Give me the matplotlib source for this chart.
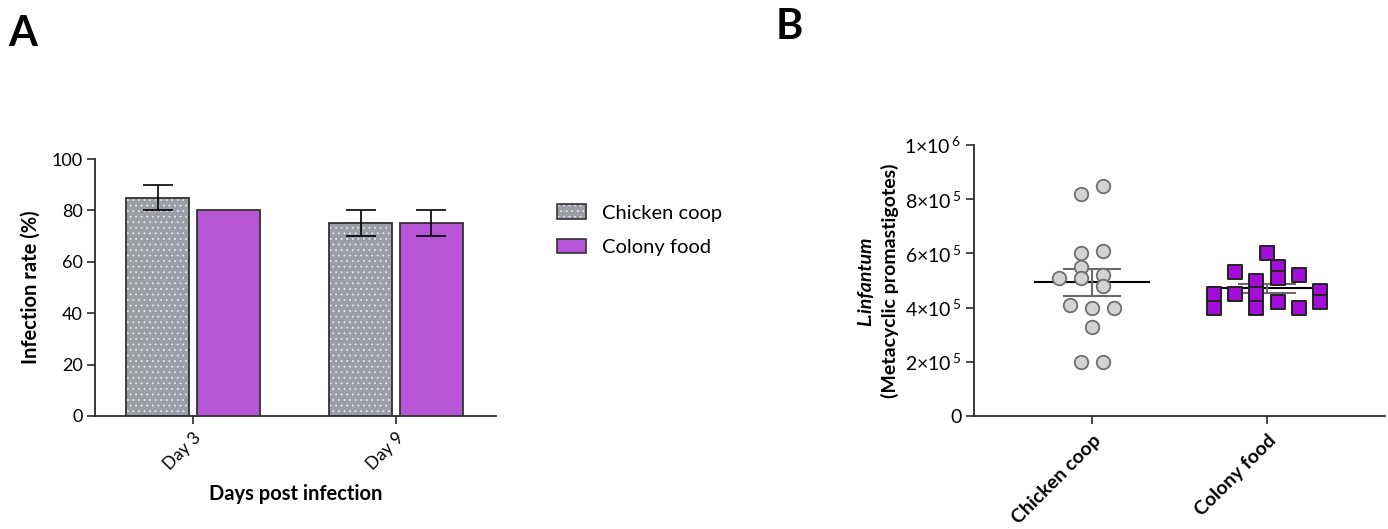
import numpy as np
import matplotlib
matplotlib.use("Agg")
import matplotlib.pyplot as plt
from matplotlib.patches import Patch

plt.rcParams['font.family'] = ['Lato', 'DejaVu Sans']
plt.rcParams['mathtext.default'] = 'regular'
plt.rcParams['hatch.linewidth'] = 0.6

# ---------------- data ----------------
days = ["Day 3", "Day 9"]
groups = ["Chicken coop", "Colony food"]
infection_chicken = [85, 75]
infection_chicken_err = [5, 5]
infection_colony = [80, 75]
infection_colony_err = [0, 5]

chicken_values = [8.2e5, 8.5e5, 6.0e5, 6.1e5, 5.5e5, 5.1e5, 5.1e5, 5.2e5,
                  4.8e5, 4.1e5, 4.0e5, 4.0e5, 3.3e5, 2.0e5, 2.0e5]
colony_values = [6.0e5, 5.3e5, 5.5e5, 5.1e5, 5.2e5, 5.0e5, 4.5e5, 4.5e5,
                 4.5e5, 4.6e5, 4.2e5, 4.0e5, 4.0e5, 4.2e5, 4.0e5]
# swarm column indices (layout)
chicken_cols = [-1, 1, -1, 1, -1, -3, -1, 1, 1, -2, 0, 2, 0, -1, 1]
colony_cols = [0, -3, 1, 1, 3, -1, -5, -3, -1, 5, 5, -5, -1, 1, 3]

yticks_B = [0, 2e5, 4e5, 6e5, 8e5, 1e6]
ytick_labels_B = ["0", r"$\mathregular{2×10^{\,5}}$", r"$\mathregular{4×10^{\,5}}$",
                  r"$\mathregular{6×10^{\,5}}$", r"$\mathregular{8×10^{\,5}}$",
                  r"$\mathregular{1×10^{\,6}}$"]

# ---------------- figure ----------------
W, H = 1388, 529
fig = plt.figure(figsize=(W / 100, H / 100), dpi=100)

axA = fig.add_axes([95 / W, (H - 416) / H, (496 - 95) / W, (416 - 159) / H])
axB = fig.add_axes([974 / W, (H - 416) / H, (1385 - 974) / W, (416 - 145) / H])

spine_col = '#2b2b2b'
gray_bar = '#9d9da5'
purple_bar = '#b655d6'
edge = '#333333'
dot_col = '#e8e8ec'

# ---------- Panel A ----------
x = np.arange(len(days))
bw = 0.31
off = 0.173
axA.bar(x - off, infection_chicken, bw, color=gray_bar, edgecolor=dot_col,
        hatch='...', linewidth=0, zorder=2)
axA.bar(x - off, infection_chicken, bw, facecolor='none', edgecolor=edge,
        linewidth=1.3, zorder=3)
axA.bar(x + off, infection_colony, bw, color=purple_bar, edgecolor=edge,
        linewidth=1.3, zorder=3)

for xs, vals, errs in [(x - off, infection_chicken, infection_chicken_err),
                       (x + off, infection_colony, infection_colony_err)]:
    for xi, v, e in zip(xs, vals, errs):
        if e > 0:
            axA.errorbar(xi, v, yerr=e, color='black', capsize=10.8,
                         elinewidth=1.2, capthick=1.2, zorder=4)

axA.set_xlim(-0.483, 1.493)
axA.set_ylim(0, 100)
axA.set_yticks([0, 20, 40, 60, 80, 100])
axA.set_xticks(x)
axA.set_xticklabels(days, rotation=45, ha='right', va='top',
                    rotation_mode='anchor', fontsize=12.5)
axA.tick_params(axis='y', labelsize=13, length=6, width=1.2, color=spine_col, pad=3)
axA.tick_params(axis='x', length=6, width=1.2, color=spine_col, pad=4)
for s in ['top', 'right']:
    axA.spines[s].set_visible(False)
for s in ['left', 'bottom']:
    axA.spines[s].set_linewidth(1.3)
    axA.spines[s].set_color(spine_col)
axA.set_ylabel("Infection rate (%)", fontsize=14.5, fontweight='bold', labelpad=8)
axA.set_xlabel("Days post infection", fontsize=14.5, fontweight='bold', labelpad=8)

h_chicken = (Patch(facecolor=gray_bar, edgecolor=dot_col, hatch='...', linewidth=0),
             Patch(facecolor='none', edgecolor=edge, linewidth=1.2))
h_colony = Patch(facecolor=purple_bar, edgecolor=edge, linewidth=1.2)
leg = fig.legend([h_chicken, h_colony], groups, loc='upper left',
                 bbox_to_anchor=(539 / W, 1 - 186 / H), frameon=False,
                 fontsize=14.5, handlelength=1.45, handleheight=0.75,
                 handletextpad=0.8, labelspacing=0.85)

# ---------- Panel B ----------
step_c = 11 / 175
step_f = 10.67 / 175
xc = 0 + np.array(chicken_cols) * step_c
xf = 1 + np.array(colony_cols) * step_f

for pos, vals in [(0, chicken_values), (1, colony_values)]:
    v = np.array(vals)
    m = v.mean()
    sem = v.std(ddof=1) / np.sqrt(len(v))
    axB.hlines(m, pos - 0.334, pos + 0.334, color='black', linewidth=1.5, zorder=2)
    axB.hlines([m - sem, m + sem], pos - 0.166, pos + 0.166, color='#6a6a6a',
               linewidth=1.5, zorder=2)
    axB.vlines(pos, m - sem, m + sem, color='#6a6a6a', linewidth=1.5, zorder=2)

axB.scatter(xc, chicken_values, s=95, marker='o', facecolor='#d3d3d3',
            edgecolor='#6e6e6e', linewidth=1.3, zorder=3)
axB.scatter(xf, colony_values, s=95, marker='s', facecolor='#a20ed8',
            edgecolor='#222222', linewidth=1.4, zorder=3)

axB.set_xlim(-0.674, 1.674)
axB.set_ylim(0, 1e6)
axB.set_yticks(yticks_B)
axB.set_yticklabels(ytick_labels_B)
axB.set_xticks([0, 1])
axB.set_xticklabels(groups, rotation=45, ha='right', va='top',
                    rotation_mode='anchor', fontsize=14, fontweight='bold')
axB.tick_params(axis='y', labelsize=14, length=6, width=1.2, color=spine_col, pad=3)
axB.tick_params(axis='x', length=6, width=1.2, color=spine_col, pad=5)
for s in ['top', 'right']:
    axB.spines[s].set_visible(False)
for s in ['left', 'bottom']:
    axB.spines[s].set_linewidth(1.3)
    axB.spines[s].set_color(spine_col)
axB.set_ylabel("(Metacyclic promastigotes)", fontsize=14, fontweight='bold', labelpad=4)
fig.text(866 / W, 1 - 281 / H, "L.infantum", rotation=90, fontsize=14,
         fontweight='bold', fontstyle='italic', ha='center', va='center')

# panel letters
fig.text(8 / W, 1 - 46 / H, "A", fontsize=30, fontweight='bold', ha='left', va='baseline')
fig.text(776 / W, 1 - 39 / H, "B", fontsize=30, fontweight='bold', ha='left', va='baseline')

fig.savefig("out.png", dpi=100)
